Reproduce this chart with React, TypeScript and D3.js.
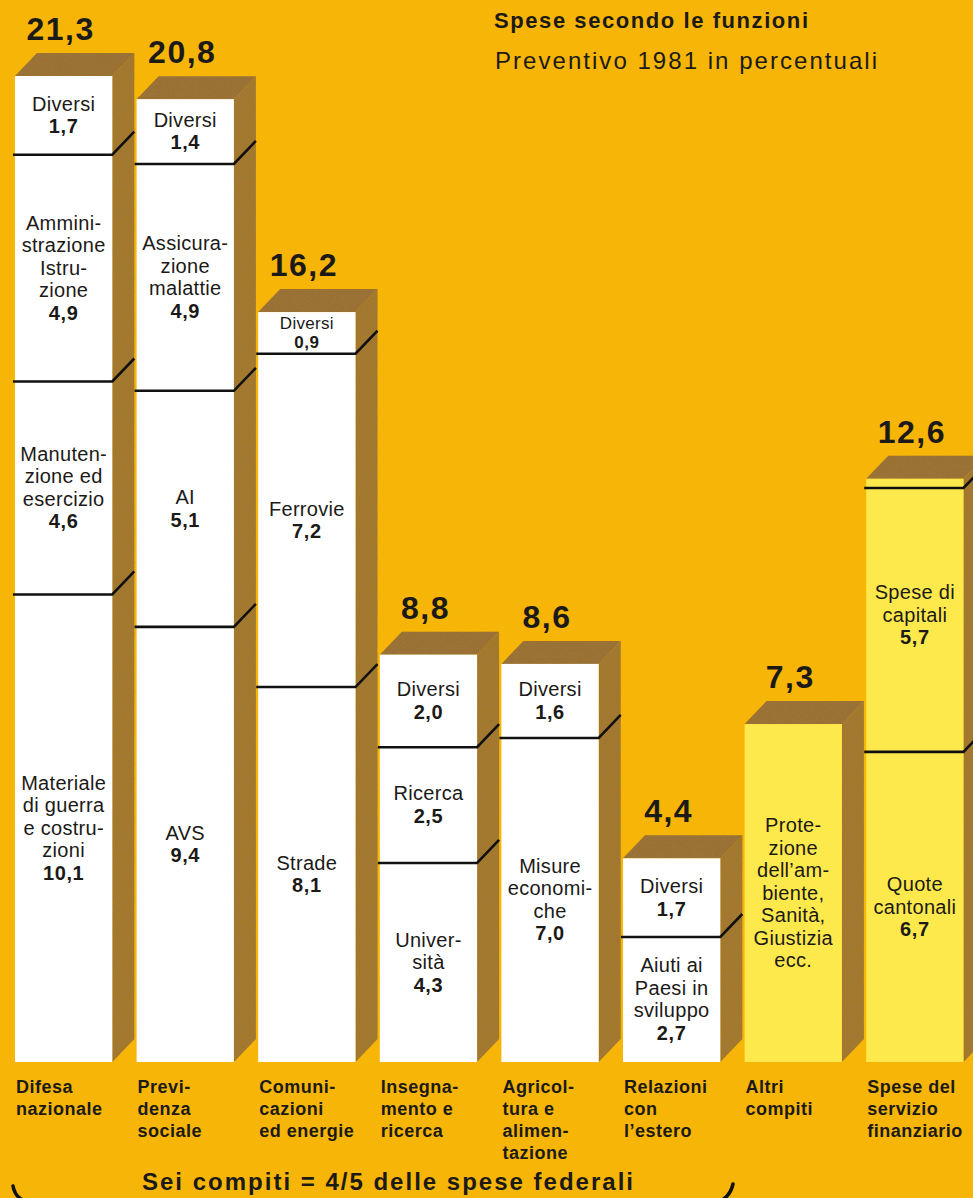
import React from "react";
import * as d3 from "d3";

// ---------- DATA ----------
const categories = [
  "Difesa nazionale",
  "Previdenza sociale",
  "Comunicazioni ed energie",
  "Insegnamento e ricerca",
  "Agricoltura e alimentazione",
  "Relazioni con l'estero",
  "Altri compiti",
  "Spese del servizio finanziario",
];

const categoryLabelLines = [
  ["Difesa", "nazionale"],
  ["Previ-", "denza", "sociale"],
  ["Comuni-", "cazioni", "ed energie"],
  ["Insegna-", "mento e", "ricerca"],
  ["Agricol-", "tura e", "alimen-", "tazione"],
  ["Relazioni", "con", "l’estero"],
  ["Altri", "compiti"],
  ["Spese del", "servizio", "finanziario"],
];

const totals = [21.3, 20.8, 16.2, 8.8, 8.6, 4.4, 7.3, 12.6];

// segments from bottom to top
const segmentValues = [
  [10.1, 4.6, 4.9, 1.7],
  [9.4, 5.1, 4.9, 1.4],
  [8.1, 7.2, 0.9],
  [4.3, 2.5, 2.0],
  [7.0, 1.6],
  [2.7, 1.7],
  [7.3],
  [6.7, 5.7],
];

const segmentNames = [
  [["Materiale", "di guerra", "e costru-", "zioni"], ["Manuten-", "zione ed", "esercizio"], ["Ammini-", "strazione", "Istru-", "zione"], ["Diversi"]],
  [["AVS"], ["AI"], ["Assicura-", "zione", "malattie"], ["Diversi"]],
  [["Strade"], ["Ferrovie"], ["Diversi"]],
  [["Univer-", "sità"], ["Ricerca"], ["Diversi"]],
  [["Misure", "economi-", "che"], ["Diversi"]],
  [["Aiuti ai", "Paesi in", "sviluppo"], ["Diversi"]],
  [["Prote-", "zione", "dell’am-", "biente,", "Sanità,", "Giustizia", "ecc."]],
  [["Quote", "cantonali"], ["Spese di", "capitali"]],
];

// categories whose segment value is not printed
const hiddenValueCategories = ["Altri compiti"];
// categories drawn with the pale yellow front
const otherGroupCategories = ["Altri compiti", "Spese del servizio finanziario"];

const title = "Spese secondo le funzioni";
const subtitle = "Preventivo 1981 in percentuali";
const bracketText = "Sei compiti = 4/5 delle spese federali";

// ---------- STYLE ----------
const W = 973;
const H = 1198;
const BG = "#F6B507";
const SIDE = "#A67829";
const TOP = "#9B7030";
const WHITE = "#FFFFFF";
const PALE = "#FEE94C";
const INK = "#1c1a17";
const FONT = "'Liberation Sans', Arial, Helvetica, sans-serif";
const DX = 22;
const DY = 23;

const fmt = (v: number) => d3.format(".1f")(v).replace(".", ",");

export default function App() {
  const y = d3.scaleLinear().domain([0, 21.3]).range([1062, 76]);
  const x = d3
    .scaleBand<string>()
    .domain(categories)
    .range([15, 963.5])
    .paddingInner(0.2)
    .paddingOuter(0);
  const bw = x.bandwidth();
  const LH = 22.5;

  return (
    <svg
      width={W}
      height={H}
      viewBox={`0 0 ${W} ${H}`}
      style={{ position: "absolute", left: 0, top: 0, display: "block" }}
      fontFamily={FONT}
    >
      <defs>
        <filter id="grain" x="0" y="0" width="100%" height="100%">
          <feTurbulence type="fractalNoise" baseFrequency="0.9" numOctaves="2" seed="4" result="noise" />
          <feColorMatrix
            in="noise"
            type="matrix"
            values="0 0 0 0 0.30  0 0 0 0 0.20  0 0 0 0 0.06  0 0 0 2.2 -0.95"
            result="specks"
          />
          <feComposite in="specks" in2="SourceAlpha" operator="in" result="clipped" />
          <feMerge>
            <feMergeNode in="SourceGraphic" />
            <feMergeNode in="clipped" />
          </feMerge>
        </filter>
      </defs>
      <rect x={0} y={0} width={W} height={H} fill={BG} />

      {/* Title */}
      <text x={494} y={28} fontSize={22} fontWeight="bold" fill={INK} textLength={314} lengthAdjust="spacing">
        {title}
      </text>
      <text x={495} y={69} fontSize={24} fill={INK} textLength={382} lengthAdjust="spacing">
        {subtitle}
      </text>

      {categories.map((cat, ci) => {
        const x0 = x(cat) as number;
        const x1 = x0 + bw;
        const total = totals[ci];
        const yT = y(total);
        const yB = y(0);
        const isOther = otherGroupCategories.includes(cat);
        const hideVal = hiddenValueCategories.includes(cat);
        const vals = segmentValues[ci];
        const cums: number[] = Array.from(d3.cumsum(vals));
        const starts = vals.map((_, i) => (i === 0 ? 0 : cums[i - 1]));

        return (
          <g key={cat}>
            {/* side */}
            <polygon
              points={`${x1},${yT} ${x1 + DX},${yT - DY} ${x1 + DX},${yB - DY} ${x1},${yB}`}
              fill={SIDE}
              filter="url(#grain)"
            />
            {/* top */}
            <polygon
              points={`${x0},${yT} ${x0 + DX},${yT - DY} ${x1 + DX},${yT - DY} ${x1},${yT}`}
              fill={TOP}
              filter="url(#grain)"
            />
            {/* front */}
            <rect x={x0} y={yT} width={bw} height={yB - yT} fill={isOther ? PALE : WHITE} />

            {/* dividers */}
            {cums.map((c, i) => {
              const isLast = i === cums.length - 1;
              if (isLast && Math.abs(c - total) < 0.05) return null;
              const yc = y(c);
              return (
                <path
                  key={`d${i}`}
                  d={`M${x0 - 2},${yc} H${x1} L${x1 + DX},${yc - DY}`}
                  fill="none"
                  stroke="#111"
                  strokeWidth={2.6}
                />
              );
            })}

            {/* segment labels */}
            {vals.map((v, i) => {
              const segTop = i === vals.length - 1 ? Math.max(total, cums[i]) : cums[i];
              const segH = y(starts[i]) - y(segTop);
              const lines = segmentNames[ci][i];
              const n = lines.length + (hideVal ? 0 : 1);
              const tight = n * LH + 3 > segH;
              const fs = tight ? 17 : 20;
              const lh = tight ? 19.5 : LH;
              const yc = (y(starts[i]) + y(segTop)) / 2;
              const first = yc - ((n - 1) * lh) / 2 + fs * 0.33;
              return (
                <g key={`s${i}`} textAnchor="middle" fill={INK}>
                  {lines.map((ln, li) => (
                    <text key={li} x={x0 + bw / 2} y={first + li * lh} fontSize={fs} letterSpacing={0.3}>
                      {ln}
                    </text>
                  ))}
                  {!hideVal && (
                    <text x={x0 + bw / 2} y={first + lines.length * lh} fontSize={fs} fontWeight="bold" letterSpacing={0.6}>
                      {fmt(v)}
                    </text>
                  )}
                </g>
              );
            })}

            {/* total label */}
            <text
              x={x0 + bw / 2 - 3}
              y={yT - 36}
              fontSize={32}
              fontWeight="bold"
              textAnchor="middle"
              letterSpacing={1.5}
              fill={INK}
            >
              {fmt(total)}
            </text>

            {/* category label */}
            {categoryLabelLines[ci].map((ln, li) => (
              <text
                key={`c${li}`}
                x={x0 + 1}
                y={yB + 31 + li * 22}
                fontSize={18}
                fontWeight="bold"
                letterSpacing={0.5}
                fill={INK}
              >
                {ln}
              </text>
            ))}
          </g>
        );
      })}

      {/* bracket */}
      <text x={142} y={1190} fontSize={24} fontWeight="bold" fill={INK} textLength={491} lengthAdjust="spacing">
        {bracketText}
      </text>
      <path
        d="M13,1186 C15,1197 22,1203 40,1204 L705,1204 C722,1203 730,1197 733,1184"
        fill="none"
        stroke="#111"
        strokeWidth={3.5}
        strokeLinecap="round"
      />
    </svg>
  );
}
